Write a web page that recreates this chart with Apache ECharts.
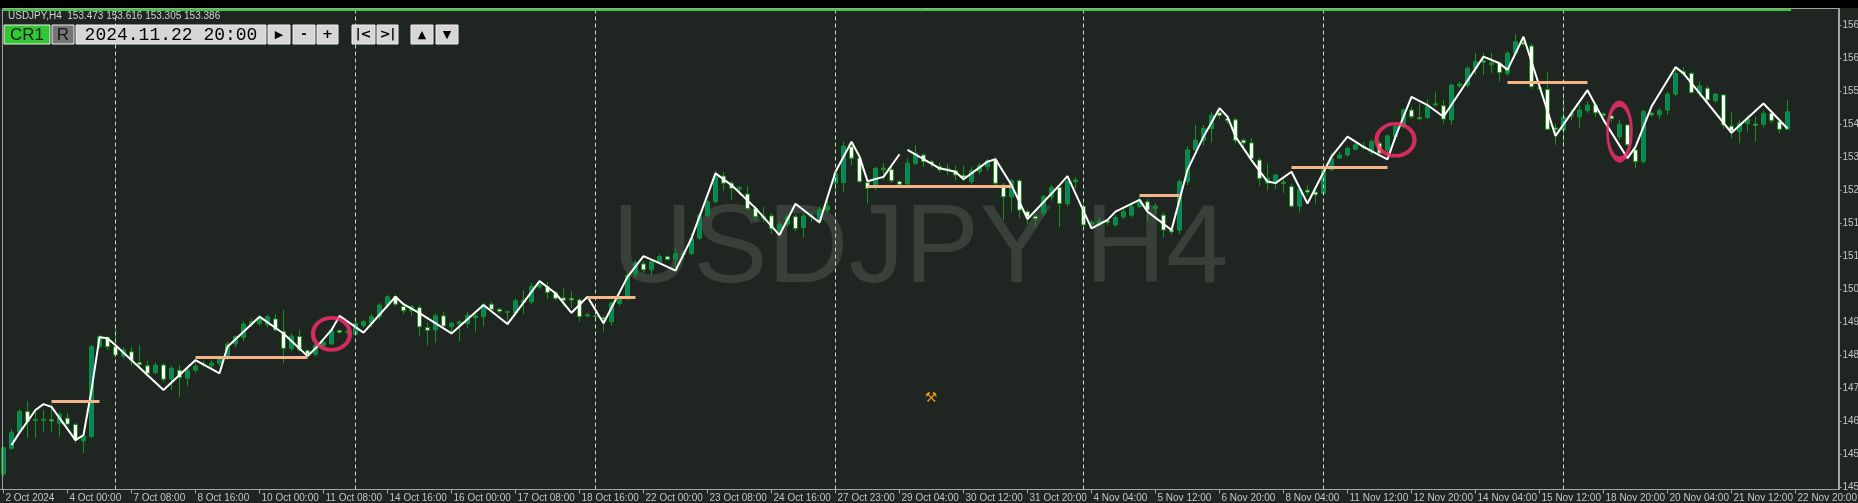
<!DOCTYPE html>
<html>
<head>
<meta charset="utf-8">
<title>USDJPY,H4</title>
<script src="https://cdn.jsdelivr.net/npm/echarts@6.0.0/dist/echarts.min.js"></script>
<style>
  html, body { margin: 0; padding: 0; background: #1f2622; }
  #chart { width: 1858px; height: 503px; }
</style>
</head>
<body>
<div id="chart"></div>
<script>
// H4 bars (one entry per bar, left to right)
const opens = [
  145.45,146.11,146.53,147.05,146.82,146.83,146.84,146.75,146.88,146.72,
  146.30,146.41,148.71,148.95,148.71,148.47,148.58,148.30,148.22,148.05,
  148.24,147.88,148.11,147.90,148.11,148.25,148.22,148.29,148.44,148.78,
  148.95,149.29,149.30,149.27,149.42,149.10,148.67,148.97,148.61,148.52,
  148.75,148.78,149.12,149.08,149.03,149.25,149.31,149.48,149.78,149.99,
  149.74,149.63,149.71,149.20,149.14,149.50,149.22,149.29,149.31,149.45,
  149.48,149.80,149.67,149.59,149.58,149.85,149.86,150.24,150.25,150.10,
  149.96,149.95,149.91,149.50,149.50,149.45,149.35,149.82,149.95,150.57,
  150.83,150.68,150.89,151.02,150.95,151.09,151.10,151.49,152.08,152.42,
  153.08,152.90,152.75,152.62,152.25,152.00,152.06,151.68,151.85,152.04,
  151.76,152.06,151.94,152.21,152.90,152.91,153.83,153.54,152.91,152.79,
  153.24,153.25,152.94,152.88,153.41,153.62,153.45,153.32,153.25,153.22,
  153.10,152.94,153.20,153.32,153.49,152.85,152.55,152.96,152.17,152.05,
  152.13,152.55,152.79,152.38,152.94,152.30,151.83,151.85,151.93,151.83,
  152.04,152.08,152.30,152.42,152.25,152.08,151.70,151.70,152.94,153.75,
  154.00,154.30,154.70,154.55,154.52,154.00,153.93,153.49,152.90,152.90,
  152.92,152.81,152.31,152.72,152.67,152.64,153.24,153.54,153.62,153.77,
  153.85,153.70,153.92,153.75,154.09,154.35,154.77,154.58,154.58,154.90,
  154.88,154.52,155.39,155.41,155.84,156.03,155.93,155.97,155.71,156.23,
  156.50,156.41,155.34,155.30,154.31,154.26,154.62,154.60,154.76,154.90,
  154.67,154.62,154.09,154.39,153.75,153.45,154.69,154.65,154.77,155.18,
  155.75,155.71,155.20,155.33,155.01,155.16,154.36,154.22,154.43,154.41,
  154.41,154.69,154.47,154.28
];
const highs = [
  146.15,146.60,147.12,147.32,147.09,147.09,147.24,147.05,147.01,146.76,
  146.45,148.75,149.01,149.00,149.18,148.70,148.70,148.75,148.35,148.30,
  148.30,148.22,148.24,148.20,148.35,148.35,148.36,148.48,148.84,149.00,
  149.37,149.43,149.50,149.52,149.55,149.65,149.05,149.15,148.65,148.80,
  148.90,149.20,149.15,149.14,149.37,149.40,149.55,149.84,150.03,150.05,
  149.80,149.78,149.78,149.33,149.57,149.60,149.35,149.38,149.60,149.62,
  149.84,149.86,149.70,149.63,149.95,150.15,150.34,150.37,150.37,150.14,
  150.20,150.13,149.95,149.57,149.52,149.50,149.88,149.98,150.60,150.92,
  150.90,150.94,151.08,151.05,151.22,151.15,151.60,152.13,152.47,153.22,
  153.19,152.96,152.83,152.83,152.32,152.30,152.12,151.92,152.12,152.10,
  152.12,152.15,152.30,152.45,153.25,153.96,153.96,153.62,152.94,153.32,
  153.41,153.32,152.97,153.54,153.88,153.66,153.50,153.42,153.40,153.35,
  153.35,153.32,153.42,153.52,153.55,152.90,153.00,153.00,152.23,152.10,
  152.60,152.85,152.85,153.00,153.06,152.38,151.95,152.00,151.98,152.08,
  152.23,152.40,152.55,152.50,152.38,152.15,151.80,153.00,153.85,154.39,
  154.39,154.73,154.82,154.60,154.58,154.05,154.05,153.55,153.40,153.13,
  153.05,152.88,152.81,152.85,152.75,153.30,153.68,153.70,153.84,153.92,
  153.95,154.02,153.98,154.15,154.42,154.82,154.85,154.95,155.06,155.24,
  155.03,155.45,155.50,155.90,156.23,156.23,156.23,156.01,156.28,156.72,
  156.65,156.48,155.40,155.75,154.43,155.11,154.77,154.90,154.99,154.95,
  154.72,154.70,154.52,154.42,153.79,154.78,154.73,154.82,155.24,155.80,
  155.87,155.76,155.50,155.39,155.21,155.16,154.73,154.53,154.63,154.60,
  154.77,154.73,154.56,155.03
];
const lows = [
  145.40,146.07,146.50,146.37,146.37,146.53,146.53,146.41,146.69,146.24,
  145.99,146.38,148.65,148.63,148.45,148.40,148.23,148.15,147.98,148.00,
  147.80,147.60,147.43,147.70,148.05,148.20,148.15,148.22,148.37,148.70,
  148.85,149.22,149.25,149.20,149.10,148.29,148.60,148.58,148.48,148.45,
  148.70,148.75,149.05,149.02,149.00,149.20,149.20,149.40,149.70,149.75,
  149.55,149.50,148.98,148.74,148.81,149.17,149.05,148.85,149.20,149.10,
  149.23,149.62,149.56,149.29,149.50,149.55,149.80,150.18,149.94,149.90,
  149.75,149.70,149.35,149.46,149.43,149.10,149.25,149.75,149.90,150.48,
  150.60,150.55,150.81,150.92,150.66,150.95,151.05,151.45,152.02,152.38,
  152.70,152.48,152.60,152.20,151.95,151.90,151.60,151.57,151.78,151.67,
  151.50,151.90,151.85,152.15,152.68,152.66,153.36,152.90,152.38,152.72,
  152.98,152.90,152.84,152.86,153.36,153.32,153.30,153.16,153.10,152.97,
  152.95,152.87,153.12,153.22,152.85,151.95,152.17,152.00,151.85,151.80,
  152.05,152.45,151.78,152.30,152.76,151.74,151.74,151.78,151.82,151.78,
  151.98,152.02,152.25,151.92,152.10,151.50,151.58,151.60,152.85,153.68,
  153.86,153.94,154.55,154.42,153.92,153.80,153.45,152.83,152.71,152.75,
  152.65,152.28,152.15,152.58,152.38,152.58,153.22,153.52,153.57,153.74,
  153.75,153.62,153.60,153.55,154.00,154.30,154.55,154.50,154.55,154.86,
  154.43,154.39,155.33,155.35,155.67,155.67,155.71,155.50,155.65,156.18,
  156.40,155.30,155.28,154.26,153.88,153.83,154.52,154.30,154.69,154.60,
  154.58,154.45,154.00,153.85,153.28,153.40,154.60,154.54,154.65,155.13,
  155.65,155.18,155.11,154.98,154.95,154.30,154.05,153.92,154.22,153.96,
  154.33,154.43,154.18,154.26
];
const closes = [
  146.12,146.51,147.05,146.79,146.85,146.85,146.81,146.98,146.73,146.32,
  146.42,148.71,148.97,148.71,148.50,148.63,148.37,148.25,148.03,148.24,
  147.88,148.16,147.92,148.11,148.21,148.27,148.29,148.41,148.78,148.97,
  149.29,149.35,149.42,149.48,149.14,148.67,148.98,148.63,148.52,148.75,
  148.82,149.12,149.08,149.10,149.31,149.35,149.48,149.78,149.99,149.80,
  149.63,149.74,149.22,149.13,149.50,149.24,149.31,149.35,149.52,149.50,
  149.78,149.67,149.61,149.61,149.89,149.90,150.25,150.30,150.10,149.95,
  149.90,149.91,149.48,149.53,149.48,149.42,149.82,149.92,150.54,150.86,
  150.68,150.89,151.02,150.95,151.09,151.08,151.48,152.08,152.42,153.06,
  152.90,152.77,152.78,152.25,152.04,152.05,151.74,151.85,152.04,151.74,
  152.06,152.05,152.21,152.31,153.14,153.85,153.54,152.94,152.77,153.28,
  153.28,152.96,152.87,153.41,153.66,153.45,153.40,153.24,153.28,153.11,
  153.05,153.22,153.35,153.47,152.90,152.55,152.96,152.21,152.04,151.99,
  152.55,152.79,152.38,152.94,152.98,151.83,151.90,151.93,151.90,152.02,
  152.17,152.30,152.47,152.21,152.30,151.70,151.65,152.94,153.75,154.00,
  154.30,154.64,154.63,154.50,154.00,153.93,153.53,153.02,153.02,153.11,
  152.90,152.31,152.74,152.67,152.60,153.24,153.54,153.62,153.79,153.88,
  153.81,153.96,153.67,154.11,154.35,154.77,154.60,154.55,154.87,154.93,
  154.54,155.41,155.44,155.84,156.01,156.00,155.98,155.73,156.23,156.52,
  156.46,155.37,155.32,154.28,154.28,154.59,154.67,154.77,154.90,154.70,
  154.64,154.55,154.41,153.88,153.45,154.73,154.65,154.76,155.18,155.71,
  155.71,155.22,155.39,155.03,155.18,154.39,154.24,154.43,154.54,154.38,
  154.69,154.50,154.28,154.73
];

// time scale: one label every 8 bars, starting at bar 0
const tickLabels = [
  '2 Oct 2024', '4 Oct 00:00', '7 Oct 08:00', '8 Oct 16:00', '10 Oct 00:00',
  '11 Oct 08:00', '14 Oct 16:00', '16 Oct 00:00', '17 Oct 08:00', '18 Oct 16:00',
  '22 Oct 00:00', '23 Oct 08:00', '24 Oct 16:00', '27 Oct 23:00', '29 Oct 04:00',
  '30 Oct 12:00', '31 Oct 20:00', '4 Nov 04:00', '5 Nov 12:00', '6 Nov 20:00',
  '8 Nov 04:00', '11 Nov 12:00', '12 Nov 20:00', '14 Nov 04:00', '15 Nov 12:00',
  '18 Nov 20:00', '20 Nov 04:00', '21 Nov 12:00', '22 Nov 20:00'
];
// price scale labels on the right
const priceTicks = [
  156.950, 156.105, 155.260, 154.415, 153.570, 152.725, 151.880, 151.035,
  150.190, 149.345, 148.500, 147.655, 146.810, 145.965, 145.120
];
const lastPrice = 153.386;
const headerText = 'USDJPY,H4  153.473 153.616 153.305 153.386';
const replayDate = '2024.11.22 20:00';

// bars where a new week starts (period separators)
const weekStarts = [14, 44, 74, 104, 135, 165, 195];

// zigzag swing points [bar, price]; the line has a break after bar 112
const zigzagA = [
  [1,146.19],[2,146.51],[4,147.09],[5,147.24],[6,147.17],[9,146.32],[10,146.45],
  [11,147.60],[12,148.95],[13,148.93],[14,148.75],[20,147.60],[24,148.37],[27,148.03],
  [28,148.71],[32,149.48],[35,149.05],[38,148.47],[39,148.67],[41,149.14],[42,149.50],
  [45,149.07],[49,149.99],[50,149.80],[52,149.57],[56,149.05],[60,149.78],[63,149.29],
  [67,150.39],[69,150.08],[71,149.58],[73,149.99],[75,149.31],[78,150.50],[80,151.03],
  [82,150.85],[84,150.66],[86,151.49],[89,153.15],[91,152.85],[94,152.26],[97,151.57],
  [99,152.37],[102,151.89],[104,153.19],[106,153.96],[107,153.58],[108,152.95],
  [110,153.06],[112,153.64]
];
const zigzagB = [
  [113,153.75],[117,153.28],[119,153.19],[120,153.00],[123,153.45],[124,153.51],
  [126,152.85],[128,151.98],[132,152.85],[133,153.08],[136,151.74],[138,151.96],
  [139,152.17],[142,152.47],[143,152.17],[146,151.70],[148,153.24],[150,154.09],
  [152,154.82],[153,154.60],[154,154.09],[156,153.49],[158,152.94],[159,152.90],
  [161,153.19],[163,152.38],[166,153.58],[168,154.09],[170,153.83],[173,153.51],
  [174,154.09],[176,155.11],[178,154.90],[180,154.60],[185,156.14],[187,155.97],
  [188,155.80],[190,156.65],[194,154.11],[198,155.28],[200,154.52],[203,153.54],
  [204,153.83],[206,154.86],[209,155.87],[210,155.71],[216,154.19],[220,154.94],
  [223,154.30]
];
// horizontal levels [fromBar, toBar, price]
const levelLines = [
  [6, 12, 147.32], [24, 38, 148.45], [73, 79, 149.99], [108, 126, 152.83],
  [142, 147, 152.60], [161, 173, 153.31], [188, 198, 155.49]
];
// circled spots [bar, price]
const markedSpots = [[41, 149.04], [174, 154.01], [202, 154.22]];

const barCount = 230; // 224 drawn bars + empty space on the right
const bars = Array.from({ length: barCount }, (_, i) => String(i));

const BG = '#1f2622';
const TEXT = '#c4c4c4';
const FRAME = '#a4a4a4';
const UI_FONT = '"Liberation Sans", Arial, sans-serif';

const chart = echarts.init(document.getElementById('chart'));

function button(x, w, label, fill, textFill, font) {
  return [
    {
      type: 'rect', z: 110, silent: true,
      shape: { x: x, y: 25, width: w, height: 19 },
      style: { fill: fill, stroke: '#efefef', lineWidth: 1 }
    },
    {
      type: 'text', z: 111, silent: true,
      x: x + w / 2, y: 35,
      style: { text: label, fill: textFill, font: font, textAlign: 'center', textVerticalAlign: 'middle' }
    }
  ];
}

const btnFont = 'bold 13px "DejaVu Sans", sans-serif';
const graphics = [
  // watermark
  {
    type: 'text', z: -10, silent: true, x: 612, y: 251,
    style: { text: 'USDJPY H4', fill: '#394039', font: '112px ' + UI_FONT, textVerticalAlign: 'middle' }
  },
  { type: 'rect', z: 100, silent: true, shape: { x: 0, y: 0, width: 1858, height: 8 }, style: { fill: '#000000' } },
  {
    type: 'rect', z: 100, silent: true,
    shape: { x: 2.5, y: 8.5, width: 1836, height: 481 },
    style: { fill: null, stroke: FRAME, lineWidth: 1 }
  },
  { type: 'rect', z: 101, silent: true, shape: { x: 3, y: 9, width: 1788, height: 2 }, style: { fill: '#32d232' } },
  {
    type: 'text', z: 101, silent: true, x: 8, y: 16,
    style: { text: headerText, fill: '#d2d2d2', font: '10px ' + UI_FONT, textVerticalAlign: 'middle' }
  },
  {
    type: 'text', z: 5, silent: true, x: 931, y: 398,
    style: { text: '\u2692', fill: '#e89a1a', font: '14px "DejaVu Sans"', textAlign: 'center', textVerticalAlign: 'middle' }
  },
  ...button(4, 46, 'CR1', '#33c833', '#0c1f0c', '17px ' + UI_FONT),
  ...button(52, 22, 'R', '#767676', '#141414', '17px ' + UI_FONT),
  ...button(76, 190, replayDate, '#d6d6d6', '#000000', '18px "Liberation Mono", monospace'),
  ...button(268, 22, '\u25B6', '#d6d6d6', '#000000', '11px "DejaVu Sans"'),
  ...button(293, 22, '-', '#d6d6d6', '#000000', btnFont),
  ...button(317, 21, '+', '#d6d6d6', '#000000', btnFont),
  ...button(352, 23, '|<', '#d6d6d6', '#000000', btnFont),
  ...button(377, 21, '>|', '#d6d6d6', '#000000', btnFont),
  ...button(411, 22, '\u25B2', '#d6d6d6', '#000000', '11px "DejaVu Sans"'),
  ...button(436, 22, '\u25BC', '#d6d6d6', '#000000', '11px "DejaVu Sans"')
];

const spotSizes = [[37, 32], [38, 32], [24, 56]];

const option = {
  backgroundColor: BG,
  animation: false,
  grid: {
    left: -0.5, top: 8.5, width: 1840, height: 481, show: false,
    containLabel: false, outerBoundsMode: 'none'
  },
  xAxis: {
    type: 'category',
    data: bars,
    boundaryGap: true,
    axisLine: { show: true, lineStyle: { color: FRAME, width: 1 } },
    axisTick: { show: true, alignWithLabel: true, interval: 7, length: 4, lineStyle: { color: FRAME } },
    axisLabel: {
      interval: 7,
      align: 'left',
      margin: 4,
      padding: [0, 0, 0, 2],
      color: TEXT,
      fontSize: 10,
      fontFamily: 'Liberation Sans',
      formatter: (value, index) => tickLabels[index / 8] || ''
    },
    splitLine: { show: false }
  },
  yAxis: {
    type: 'value',
    position: 'right',
    min: 145.054,
    max: 157.372,
    scale: true,
    axisLine: { show: true, lineStyle: { color: FRAME, width: 1 } },
    axisTick: { show: true, customValues: priceTicks, length: 2, lineStyle: { color: FRAME } },
    axisLabel: {
      customValues: priceTicks,
      margin: 3,
      color: TEXT,
      fontSize: 10,
      fontFamily: 'Liberation Sans',
      formatter: (v) => v.toFixed(3)
    },
    splitLine: { show: false }
  },
  series: [
    {
      name: 'USDJPY',
      type: 'candlestick',
      barWidth: 5,
      z: 2,
      data: opens.map((o, i) => [o, closes[i], lows[i], highs[i]]),
      itemStyle: {
        color: '#08807a',
        color0: '#ffffff',
        borderColor: '#159415',
        borderColor0: '#159415',
        borderWidth: 1
      },
      markLine: {
        silent: true,
        symbol: 'none',
        animation: false,
        label: { show: false },
        lineStyle: { color: '#cfd2cf', width: 1, type: [4, 3] },
        data: [
          ...weekStarts.map((b) => ({ xAxis: String(b) })),
          {
            yAxis: lastPrice,
            lineStyle: { opacity: 0 },
            label: {
              show: true,
              position: 'end',
              distance: 1,
              formatter: lastPrice.toFixed(3),
              color: '#000000',
              backgroundColor: '#c3c3c3',
              padding: [2, 3, 1, 3],
              fontSize: 10,
              fontFamily: 'Liberation Sans'
            }
          }
        ]
      }
    },
    {
      name: 'levels',
      type: 'line',
      z: 3,
      data: [],
      markLine: {
        silent: true,
        symbol: 'none',
        animation: false,
        label: { show: false },
        lineStyle: { color: '#f5b487', width: 3, type: 'solid' },
        data: levelLines.map(([s, e, p]) => [{ coord: [String(s), p] }, { coord: [String(e), p] }])
      }
    },
    {
      name: 'zigzag-a',
      type: 'line',
      z: 4,
      symbol: 'none',
      lineStyle: { color: '#ffffff', width: 2 },
      data: zigzagA.map(([b, p]) => [String(b), p])
    },
    {
      name: 'zigzag-b',
      type: 'line',
      z: 4,
      symbol: 'none',
      lineStyle: { color: '#ffffff', width: 2 },
      data: zigzagB.map(([b, p]) => [String(b), p])
    },
    {
      name: 'spots',
      type: 'scatter',
      z: 5,
      symbol: 'circle',
      symbolSize: (val, params) => spotSizes[params.dataIndex],
      itemStyle: { color: 'rgba(0,0,0,0)', borderColor: '#ff2d6e', borderWidth: 4 },
      data: markedSpots.map(([b, p]) => [String(b), p])
    }
  ],
  graphic: graphics
};

chart.setOption(option);
</script>
</body>
</html>
